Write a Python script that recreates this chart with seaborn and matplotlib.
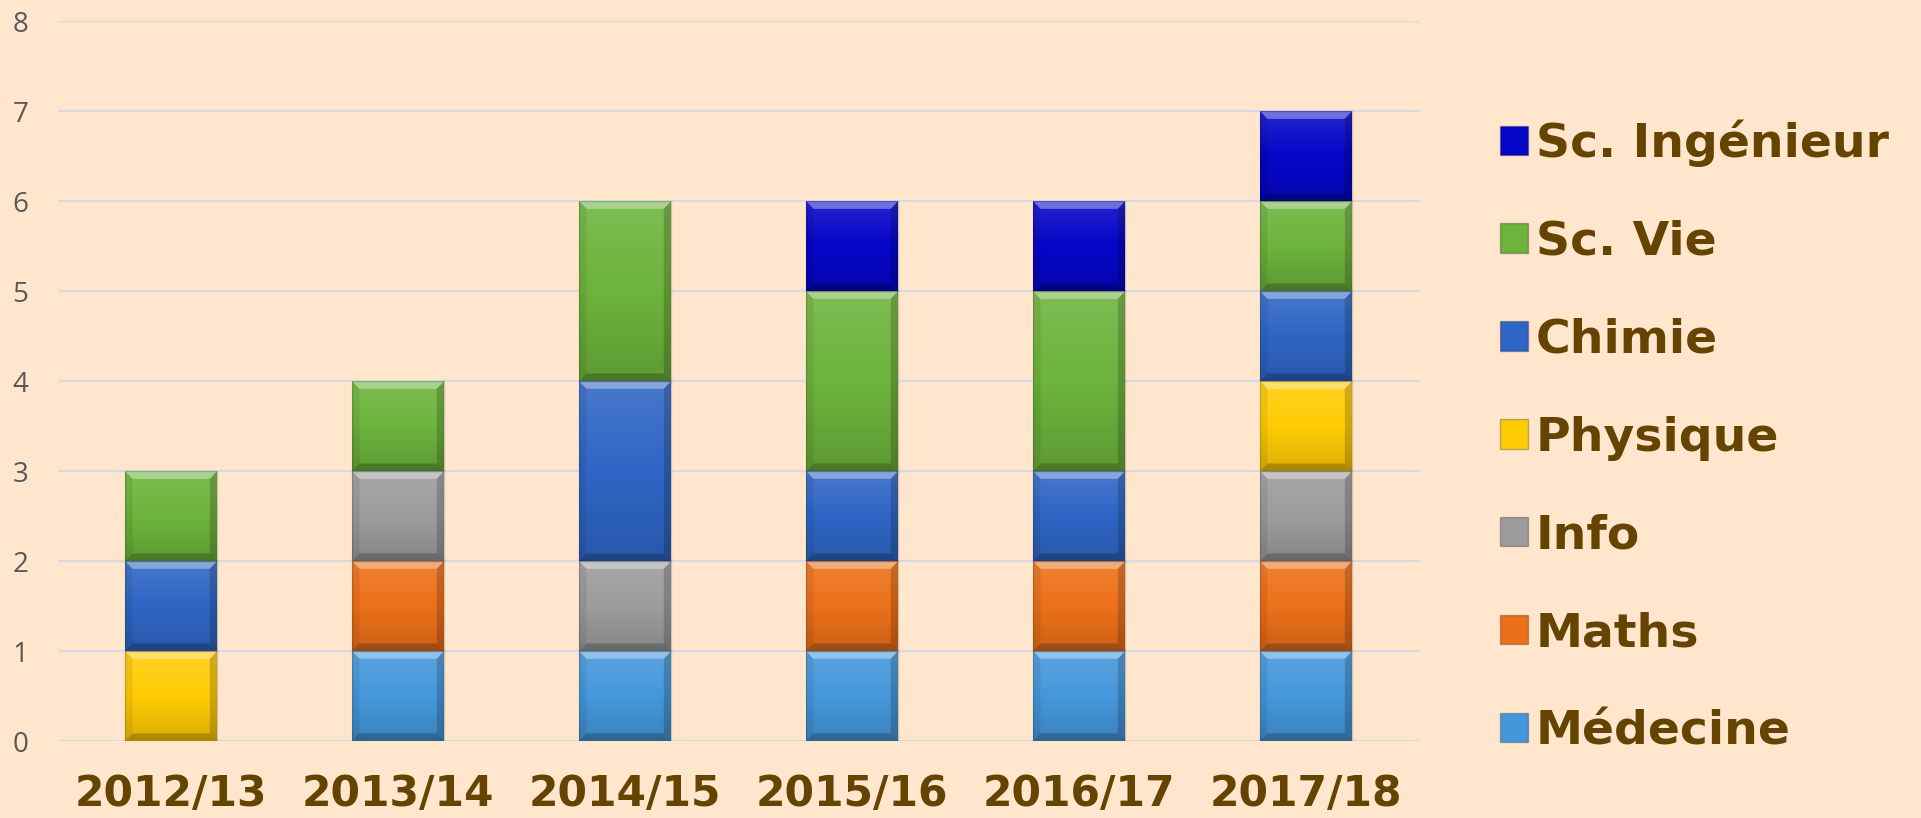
import numpy as np
import pandas as pd
import matplotlib
matplotlib.use("Agg")
import matplotlib.pyplot as plt
import seaborn as sns
from matplotlib.patches import Patch

years = ["2012/13", "2013/14", "2014/15", "2015/16", "2016/17", "2017/18"]
subjects = ["Médecine", "Maths", "Info", "Physique", "Chimie", "Sc. Vie", "Sc. Ingénieur"]
medecine = [0, 1, 1, 1, 1, 1]
maths = [0, 1, 0, 1, 1, 1]
info = [0, 1, 1, 0, 0, 1]
physique = [1, 0, 0, 0, 0, 1]
chimie = [1, 0, 2, 1, 1, 1]
sc_vie = [1, 1, 2, 2, 2, 1]
sc_ing = [0, 0, 0, 1, 1, 1]
yticks = [0, 1, 2, 3, 4, 5, 6, 7, 8]

colors = ["#4597DB", "#EC7019", "#9C9C9C", "#FFCB05", "#2F66C5", "#6DB33C", "#0606C8"]
series = [medecine, maths, info, physique, chimie, sc_vie, sc_ing]

BG = "#FFE6CD"
BROWN = "#654300"

sns.set_theme(style="white")
plt.rcParams["font.family"] = ["DejaVu Sans"]

fig = plt.figure(figsize=(19.21, 8.18), dpi=100, facecolor=BG)
ax = fig.add_axes([0.030, 0.094, 0.709, 0.880])
ax.set_facecolor(BG)

vals = np.array(series, dtype=float)
cum = np.cumsum(vals, axis=0)
df = pd.DataFrame({"year": years})
for i, s in enumerate(subjects):
    df[s] = cum[i]

bar_w = 0.405
# draw from top layer down so lower segments overlay
layer_patches = {}
for i in range(len(subjects) - 1, -1, -1):
    n_before = len(ax.patches)
    sns.barplot(data=df, x="year", y=subjects[i], order=years, color=colors[i],
                width=bar_w, saturation=1, errorbar=None, linewidth=0, ax=ax, zorder=3)
    layer_patches[i] = ax.patches[n_before:]

# soft vertical gradient + bevel for each visible segment
grad = np.zeros((64, 1, 4))
t = np.linspace(0, 1, 64)[:, None]
grad[..., 0:3] = np.where(t < 0.5, 1.0, 0.0)[:, :, None]
grad[..., 3] = np.where(t < 0.5, 0.12 * (1 - t / 0.5), 0.14 * ((t - 0.5) / 0.5))
dx, dy = 0.032, 0.085
for i in range(len(subjects)):
    for j, p in enumerate(layer_patches[i]):
        lo = cum[i - 1][j] if i > 0 else 0.0
        hi = cum[i][j]
        if hi - lo <= 0:
            continue
        x0 = p.get_x()
        x1 = x0 + p.get_width()
        ax.imshow(grad, extent=(x0, x1, lo, hi), aspect="auto", zorder=4,
                  interpolation="bilinear")
        ax.fill([x0, x1, x1 - dx, x0 + dx], [hi, hi, hi - dy, hi - dy],
                color="white", alpha=0.35, lw=0, zorder=5)
        ax.fill([x0, x0, x0 + dx, x0 + dx], [lo, hi, hi - dy, lo + dy],
                color="black", alpha=0.07, lw=0, zorder=5)
        ax.fill([x1, x1, x1 - dx, x1 - dx], [lo, hi, hi - dy, lo + dy],
                color="black", alpha=0.18, lw=0, zorder=5)
        ax.fill([x0, x1, x1 - dx, x0 + dx], [lo, lo, lo + dy, lo + dy],
                color="black", alpha=0.22, lw=0, zorder=5)
        ax.plot([x0, x1, x1, x0, x0], [lo, lo, hi, hi, lo], color="black",
                alpha=0.15, lw=1.0, zorder=6, solid_joinstyle="miter")

ax.set_xlim(-0.5, len(years) - 0.5)
ax.set_ylim(0, 8)
ax.set_yticks(yticks)
ax.set_yticklabels([str(v) for v in yticks], fontsize=20, color="#595959",
                   family=["Open Sans", "DejaVu Sans"])
ax.tick_params(axis="y", length=0, pad=21)
ax.tick_params(axis="x", length=0, pad=23)
for lab in ax.get_xticklabels():
    lab.set_fontsize(30.5)
    lab.set_fontweight("bold")
    lab.set_color(BROWN)
ax.set_xlabel("")
ax.set_ylabel("")
ax.yaxis.grid(True, color="#D7DAE0", lw=1.6, zorder=0)
ax.xaxis.grid(False)
ax.set_axisbelow(True)
for sp in ax.spines.values():
    sp.set_visible(False)

handles = [Patch(facecolor=colors[i], edgecolor="#00000040", lw=1) for i in range(len(subjects) - 1, -1, -1)]
labels = [subjects[i] for i in range(len(subjects) - 1, -1, -1)]
leg = fig.legend(handles, labels, loc="center left", bbox_to_anchor=(0.781, 0.466),
                 frameon=False, borderpad=0, borderaxespad=0, handlelength=0.58,
                 handleheight=0.58, handletextpad=0.17, labelspacing=1.12,
                 prop={"size": 34, "weight": "bold", "family": "DejaVu Sans"})
for txt in leg.get_texts():
    txt.set_color(BROWN)

fig.savefig("out.png", dpi=100, facecolor=BG)
